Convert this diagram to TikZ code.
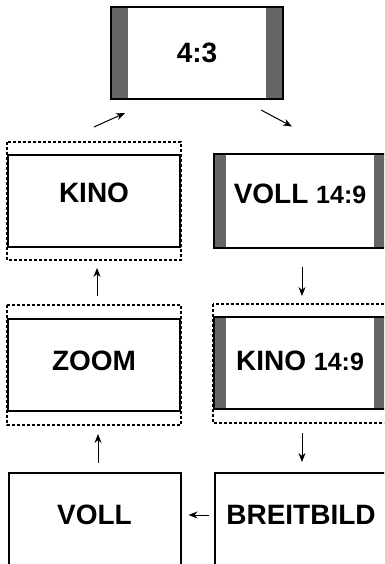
\documentclass[tikz,border=0pt]{standalone}
\usepackage{fontspec}
\setmainfont{Liberation Sans}
\usetikzlibrary{arrows.meta}

\begin{document}
\begin{tikzpicture}[x=1pt,y=-1pt,
    screen/.style={draw,line width=2pt,minimum width=172pt,minimum height=92pt,
      inner sep=0pt,font=\fontsize{28}{30}\selectfont\bfseries},
    lift/.style={text depth=#1},
    bars/.style={path picture={
      \fill[black!60] (path picture bounding box.north west) rectangle
        ([xshift=#1]path picture bounding box.south west);
      \fill[black!60] (path picture bounding box.north east) rectangle
        ([xshift=-#1]path picture bounding box.south east);}},
    frame/.style={line width=1.6pt,dash pattern=on 3pt off 2pt},
    flow/.style={-{Stealth[length=9pt,width=7pt]},line width=1pt}]

  \useasboundingbox (0,0) rectangle (384,564);
  \clip (0,0) rectangle (384,564);

  % screens
  \node[screen,bars=17pt] (r43)    at (197,53)  {4:3};
  \node[screen,lift=16pt] (kino)   at (94,201)  {KINO};
  \node[screen,bars=12pt,lift=15pt,minimum height=93pt] (voll149) at (300,201)
       {VOLL {\fontsize{25}{30}\selectfont 14:9}};
  \node[screen,lift=8pt]  (zoom)   at (94,365)  {ZOOM};
  \node[screen,bars=12pt,lift=4pt] (kino149) at (300,363)
       {KINO {\fontsize{25}{30}\selectfont 14:9}};
  \node[screen,lift=8pt]  (voll)   at (94.5,519) {VOLL};
  \node[screen,lift=8pt]  (breit)  at (301,519) {BREITBILD};

  % dotted frames
  \draw[frame] ([yshift=12pt]kino.north west) rectangle ([yshift=-12pt]kino.south east);
  \draw[frame] ([yshift=13pt]zoom.north west) rectangle ([yshift=-13pt]zoom.south east);
  \draw[frame] ([yshift=12pt]kino149.north west) rectangle ([yshift=-13pt]kino149.south east);

  % arrows
  \draw[flow] ([yshift=27pt]kino.north) -- ([xshift=15pt,yshift=-13pt]r43.south west);
  \draw[flow] ([xshift=-23pt,yshift=-10pt]r43.south east) -- ([xshift=-8pt,yshift=27pt]voll149.north);
  \draw[flow] ([xshift=2pt,yshift=-18pt]voll149.south) -- ([xshift=2pt,yshift=20pt]kino149.north);
  \draw[flow] ([xshift=2pt,yshift=-23pt]kino149.south) -- ([xshift=1pt,yshift=10pt]breit.north);
  \draw[flow] ([xshift=-5pt,yshift=4pt]breit.west) -- ([xshift=7pt,yshift=4pt]voll.east);
  \draw[flow] ([xshift=3.5pt,yshift=9pt]voll.north) -- ([xshift=4pt,yshift=-22pt]zoom.south);
  \draw[flow] ([xshift=3pt,yshift=22pt]zoom.north) -- ([xshift=3pt,yshift=-20pt]kino.south);

\end{tikzpicture}
\end{document}
